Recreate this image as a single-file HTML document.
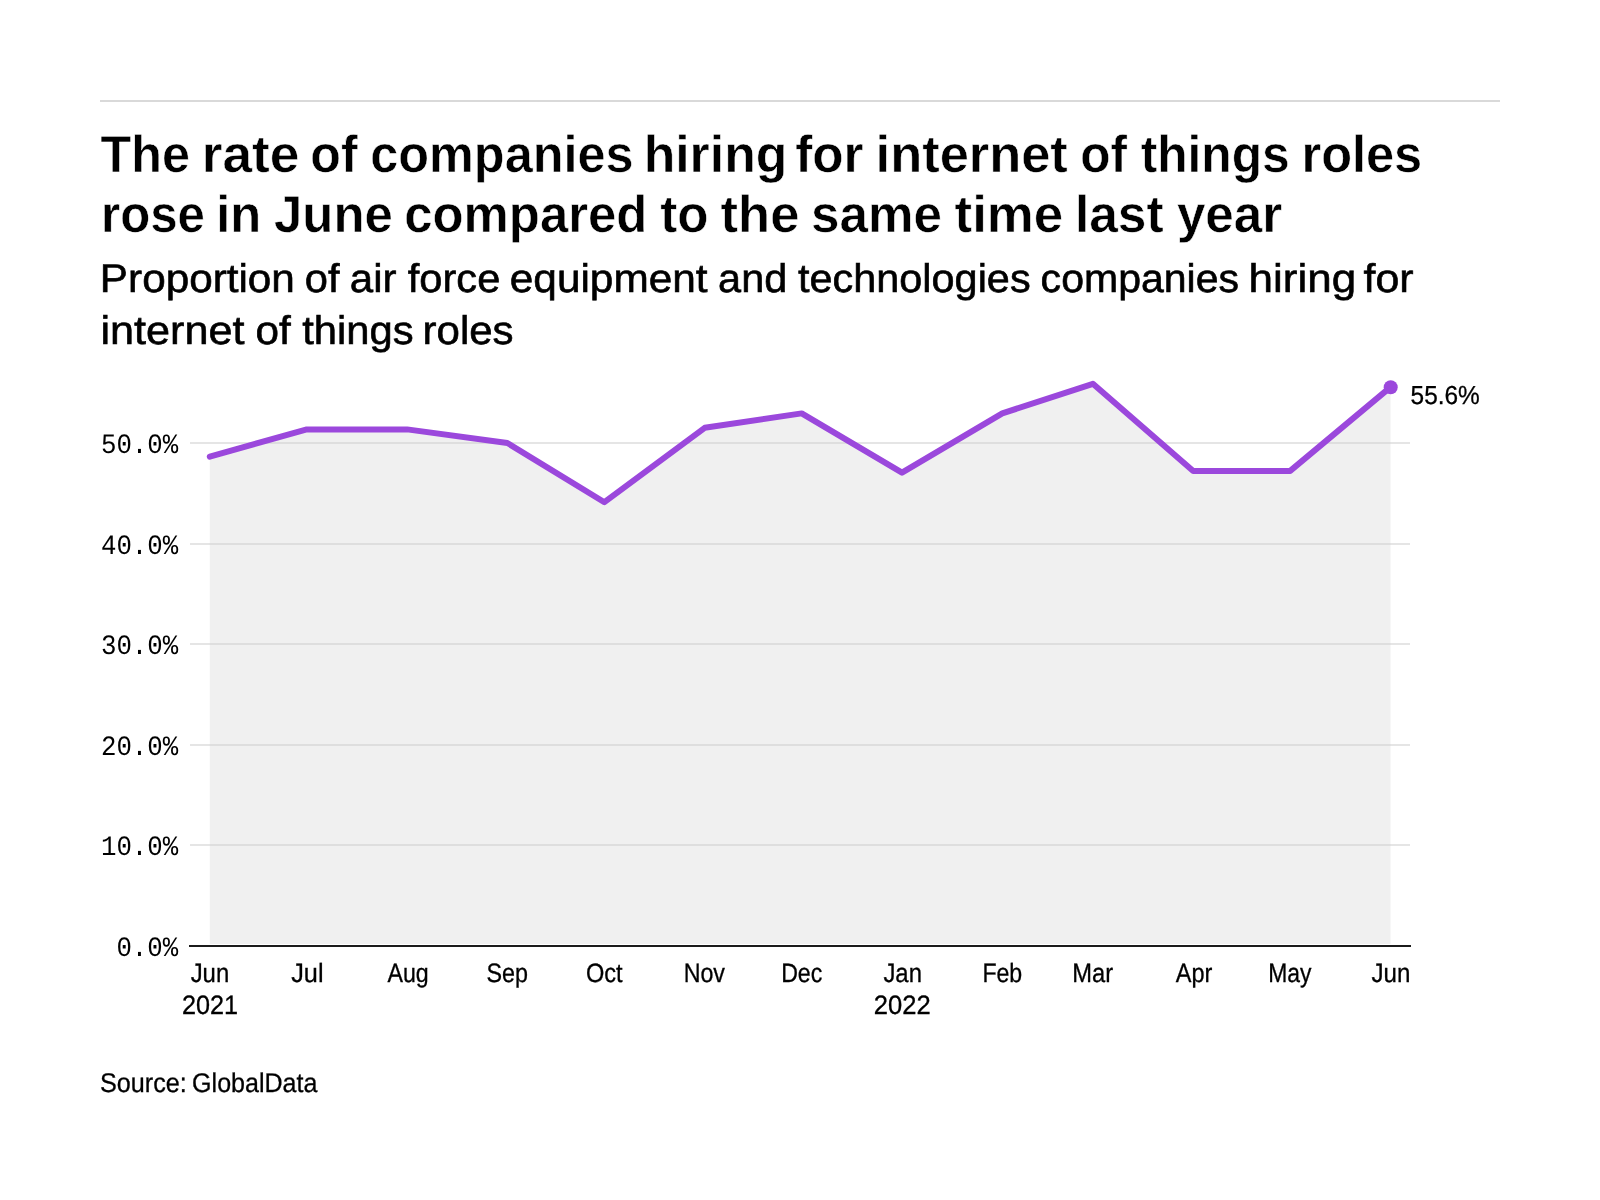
<!DOCTYPE html>
<html><head><meta charset="utf-8"><title>chart</title>
<style>
html,body{margin:0;padding:0;background:#fff;}
body{width:1600px;height:1200px;overflow:hidden;font-family:"Liberation Sans",sans-serif;}
svg{display:block;will-change:transform;}
text{font-family:"Liberation Sans",sans-serif;fill:#000;text-rendering:geometricPrecision;}
.mono{font-family:"Liberation Mono",monospace;font-size:28px;}
.xl{font-size:26.5px;}
.src{font-size:27px;}
.val{font-size:26px;}
.title{font-size:52px;font-weight:bold;stroke:#fff;stroke-width:0.5px;}
.sub{font-size:40px;stroke:#000;stroke-width:0.6px;}
.xl,.src,.val{stroke:#000;stroke-width:0.3px;}
</style></head><body>
<svg width="1600" height="1200" viewBox="0 0 1600 1200">
<rect x="100" y="100" width="1400" height="2" fill="#d9d9d9"/>
<text x="100.52" y="172" class="title" textLength="89.37" lengthAdjust="spacingAndGlyphs">The</text>
<text x="201.80" y="172" class="title" textLength="97.64" lengthAdjust="spacingAndGlyphs">rate</text>
<text x="310.32" y="172" class="title" textLength="47.26" lengthAdjust="spacingAndGlyphs">of</text>
<text x="370.31" y="172" class="title" textLength="263.15" lengthAdjust="spacingAndGlyphs">companies</text>
<text x="643.64" y="172" class="title" textLength="143.76" lengthAdjust="spacingAndGlyphs">hiring</text>
<text x="795.14" y="172" class="title" textLength="68.29" lengthAdjust="spacingAndGlyphs">for</text>
<text x="875.60" y="172" class="title" textLength="192.22" lengthAdjust="spacingAndGlyphs">internet</text>
<text x="1080.35" y="172" class="title" textLength="46.74" lengthAdjust="spacingAndGlyphs">of</text>
<text x="1140.65" y="172" class="title" textLength="149.10" lengthAdjust="spacingAndGlyphs">things</text>
<text x="1301.47" y="172" class="title" textLength="120.76" lengthAdjust="spacingAndGlyphs">roles</text>

<text x="101.06" y="232" class="title" textLength="103.81" lengthAdjust="spacingAndGlyphs">rose</text>
<text x="216.22" y="232" class="title" textLength="45.04" lengthAdjust="spacingAndGlyphs">in</text>
<text x="274.02" y="232" class="title" textLength="118.82" lengthAdjust="spacingAndGlyphs">June</text>
<text x="404.29" y="232" class="title" textLength="243.03" lengthAdjust="spacingAndGlyphs">compared</text>
<text x="660.14" y="232" class="title" textLength="48.29" lengthAdjust="spacingAndGlyphs">to</text>
<text x="720.62" y="232" class="title" textLength="78.77" lengthAdjust="spacingAndGlyphs">the</text>
<text x="811.03" y="232" class="title" textLength="130.82" lengthAdjust="spacingAndGlyphs">same</text>
<text x="954.62" y="232" class="title" textLength="108.58" lengthAdjust="spacingAndGlyphs">time</text>
<text x="1074.91" y="232" class="title" textLength="88.69" lengthAdjust="spacingAndGlyphs">last</text>
<text x="1176.88" y="232" class="title" textLength="105.35" lengthAdjust="spacingAndGlyphs">year</text>

<text x="99.87" y="292" class="sub" textLength="195.03" lengthAdjust="spacingAndGlyphs">Proportion</text>
<text x="304.86" y="292" class="sub" textLength="34.69" lengthAdjust="spacingAndGlyphs">of</text>
<text x="349.84" y="292" class="sub" textLength="46.72" lengthAdjust="spacingAndGlyphs">air</text>
<text x="407.78" y="292" class="sub" textLength="92.54" lengthAdjust="spacingAndGlyphs">force</text>
<text x="509.83" y="292" class="sub" textLength="197.68" lengthAdjust="spacingAndGlyphs">equipment</text>
<text x="718.12" y="292" class="sub" textLength="69.16" lengthAdjust="spacingAndGlyphs">and</text>
<text x="798.03" y="292" class="sub" textLength="232.58" lengthAdjust="spacingAndGlyphs">technologies</text>
<text x="1040.63" y="292" class="sub" textLength="198.41" lengthAdjust="spacingAndGlyphs">companies</text>
<text x="1248.52" y="292" class="sub" textLength="107.63" lengthAdjust="spacingAndGlyphs">hiring</text>
<text x="1363.51" y="292" class="sub" textLength="50.08" lengthAdjust="spacingAndGlyphs">for</text>

<text x="100.47" y="344" class="sub" textLength="144.05" lengthAdjust="spacingAndGlyphs">internet</text>
<text x="255.58" y="344" class="sub" textLength="35.22" lengthAdjust="spacingAndGlyphs">of</text>
<text x="302.28" y="344" class="sub" textLength="111.34" lengthAdjust="spacingAndGlyphs">things</text>
<text x="422.54" y="344" class="sub" textLength="91.05" lengthAdjust="spacingAndGlyphs">roles</text>

<path d="M209.75,944 L209.8,456.6 L306.8,429.4 L407.1,429.4 L507.4,443.0 L604.4,502.2 L704.7,427.8 L801.7,413.4 L902.0,472.6 L1002.3,413.4 L1092.9,383.8 L1193.2,470.9 L1290.2,470.9 L1390.5,387.1 L1390.5,944 Z" fill="#f0f0f0"/>
<rect x="190" y="844" width="1220" height="2" fill="#ccc" fill-opacity="0.5"/>
<rect x="190" y="744" width="1220" height="2" fill="#ccc" fill-opacity="0.5"/>
<rect x="190" y="643" width="1220" height="2" fill="#ccc" fill-opacity="0.5"/>
<rect x="190" y="543" width="1220" height="2" fill="#ccc" fill-opacity="0.5"/>
<rect x="190" y="442" width="1220" height="2" fill="#ccc" fill-opacity="0.5"/>

<rect x="189" y="945" width="1222" height="2" fill="#1b1b1b"/>
<polyline points="209.8,456.6 306.8,429.4 407.1,429.4 507.4,443.0 604.4,502.2 704.7,427.8 801.7,413.4 902.0,472.6 1002.3,413.4 1092.9,383.8 1193.2,470.9 1290.2,470.9 1390.5,387.1" fill="none" stroke="#9b48dc" stroke-width="6" stroke-linecap="round" stroke-linejoin="round"/>
<circle cx="1390.7" cy="387.2" r="7" fill="#9b48dc"/>
<text x="116.40" y="956.0" class="mono" textLength="61.80" lengthAdjust="spacingAndGlyphs">0.0%</text>
<text x="100.95" y="855.4" class="mono" textLength="77.25" lengthAdjust="spacingAndGlyphs">10.0%</text>
<text x="100.95" y="754.8" class="mono" textLength="77.25" lengthAdjust="spacingAndGlyphs">20.0%</text>
<text x="100.95" y="654.2" class="mono" textLength="77.25" lengthAdjust="spacingAndGlyphs">30.0%</text>
<text x="100.95" y="553.6" class="mono" textLength="77.25" lengthAdjust="spacingAndGlyphs">40.0%</text>
<text x="100.95" y="453.0" class="mono" textLength="77.25" lengthAdjust="spacingAndGlyphs">50.0%</text>

<text x="190.66" y="982" class="xl" textLength="38.53" lengthAdjust="spacingAndGlyphs">Jun</text>
<text x="291.24" y="982" class="xl" textLength="32.33" lengthAdjust="spacingAndGlyphs">Jul</text>
<text x="387.50" y="982" class="xl" textLength="41.25" lengthAdjust="spacingAndGlyphs">Aug</text>
<text x="486.51" y="982" class="xl" textLength="41.50" lengthAdjust="spacingAndGlyphs">Sep</text>
<text x="585.89" y="982" class="xl" textLength="36.70" lengthAdjust="spacingAndGlyphs">Oct</text>
<text x="683.63" y="982" class="xl" textLength="41.37" lengthAdjust="spacingAndGlyphs">Nov</text>
<text x="781.14" y="982" class="xl" textLength="41.15" lengthAdjust="spacingAndGlyphs">Dec</text>
<text x="883.41" y="982" class="xl" textLength="38.53" lengthAdjust="spacingAndGlyphs">Jan</text>
<text x="982.39" y="982" class="xl" textLength="39.87" lengthAdjust="spacingAndGlyphs">Feb</text>
<text x="1072.35" y="982" class="xl" textLength="40.89" lengthAdjust="spacingAndGlyphs">Mar</text>
<text x="1175.75" y="982" class="xl" textLength="36.57" lengthAdjust="spacingAndGlyphs">Apr</text>
<text x="1268.16" y="982" class="xl" textLength="43.28" lengthAdjust="spacingAndGlyphs">May</text>
<text x="1371.56" y="982" class="xl" textLength="38.90" lengthAdjust="spacingAndGlyphs">Jun</text>
<text x="181.91" y="1013.5" class="xl" textLength="56.14" lengthAdjust="spacingAndGlyphs">2021</text>
<text x="873.79" y="1013.5" class="xl" textLength="56.87" lengthAdjust="spacingAndGlyphs">2022</text>
<text x="1410.56" y="404" class="val" textLength="69.24" lengthAdjust="spacingAndGlyphs">55.6%</text>
<text x="99.95" y="1092" class="src" textLength="86.81" lengthAdjust="spacingAndGlyphs">Source:</text>
<text x="192.09" y="1092" class="src" textLength="125.36" lengthAdjust="spacingAndGlyphs">GlobalData</text>

</svg>
</body></html>
